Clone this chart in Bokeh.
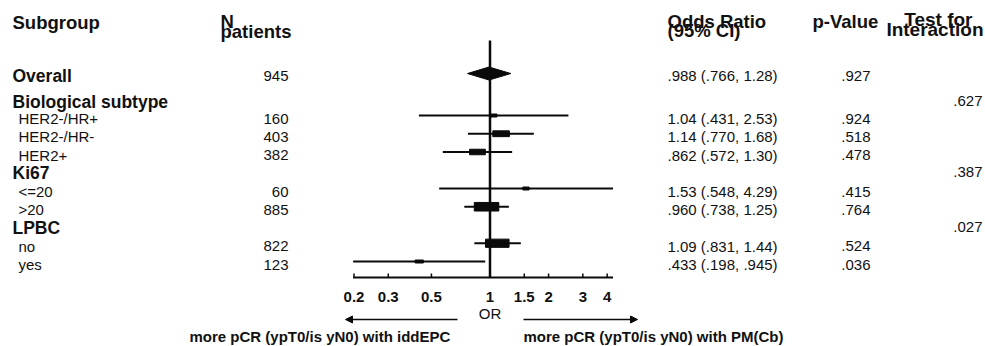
import math
from bokeh.plotting import figure
from bokeh.models import Range1d, LinearScale, Arrow, NormalHead
from bokeh.core.properties import value
from bokeh.embed import file_html
from bokeh.resources import INLINE

# ---------------- data ----------------
overall_label = "Overall"
overall_n = 945
overall_or = 0.988
overall_lcl = 0.766
overall_ucl = 1.28
overall_p = ".927"

group_headers = ["Biological subtype", "Ki67", "LPBC"]
interaction_p = [".627", ".387", ".027"]

sub_labels = ["HER2-/HR+", "HER2-/HR-", "HER2+", "<=20", ">20", "no", "yes"]
sub_n = [160, 403, 382, 60, 885, 822, 123]
sub_or = [1.04, 1.14, 0.862, 1.53, 0.960, 1.09, 0.433]
sub_lcl = [0.431, 0.770, 0.572, 0.548, 0.738, 0.831, 0.198]
sub_ucl = [2.53, 1.68, 1.30, 4.29, 1.25, 1.44, 0.945]
sub_p = [".924", ".518", ".478", ".415", ".764", ".524", ".036"]

tick_values = [0.2, 0.3, 0.5, 1, 1.5, 2, 3, 4]
tick_labels = ["0.2", "0.3", "0.5", "1", "1.5", "2", "3", "4"]
axis_label = "OR"
left_caption = "more pCR (ypT0/is yN0) with iddEPC"
right_caption = "more pCR (ypT0/is yN0) with PM(Cb)"

# ---------------- layout ----------------
W, H = 985, 346
PX0, PY0 = 0, 0                      # page offset of the figure (observed)
ONE_X, PX_PER_LN = 489.5, 84.5       # page x of OR=1, pixels per ln unit
ROW0_Y, ROW_H = 60.25, 18.25         # page y of row 0, row height

overall_row = 0.7
header_rows = [2.1, 6, 9]
sub_rows = [3, 4, 5, 7, 8, 10, 11]

FONT = value("Liberation Sans")

x_start = math.exp((PX0 - ONE_X) / PX_PER_LN)
x_end = math.exp((PX0 + W - ONE_X) / PX_PER_LN)
r_top = (PY0 - ROW0_Y) / ROW_H
r_bot = (PY0 + H - ROW0_Y) / ROW_H

p = figure(width=W, height=H, x_axis_type="log", x_axis_location=None, y_axis_location=None,
           x_range=Range1d(x_start, x_end), y_range=Range1d(r_bot, r_top),
           output_backend="svg", toolbar_location=None, min_border=0)
p.extra_x_ranges = {"px": Range1d(PX0, PX0 + W)}
p.extra_x_scales = {"px": LinearScale()}
p.extra_y_ranges = {"py": Range1d(PY0 + H, PY0)}
p.extra_y_scales = {"py": LinearScale()}
p.grid.visible = False
p.outline_line_color = None
p.background_fill_color = "white"
p.border_fill_color = "white"


def fmt(v):
    s = f"{v:#.3g}"
    return s[1:] if s.startswith("0.") else s


def txt(x, y, t, size, bold=False, align="left", yname="py", yoff=0, xname="px"):
    kw = dict(x=x, y=y, text=t, text_font=FONT, text_font_size=size,
              text_font_style="bold" if bold else "normal", text_align=align,
              text_baseline="middle", text_color="#111111", y_offset=yoff)
    if xname:
        kw["x_range_name"] = xname
    if yname:
        kw["y_range_name"] = yname
    p.text(**kw)


# ---------------- column headers ----------------
txt([12], [22], ["Subgroup"], "18.5px", bold=True)
txt([220], [21], ["N"], "18.5px", bold=True)
txt([220], [30.5], ["patients"], "18.5px", bold=True)
txt([667], [21], ["Odds Ratio"], "18.5px", bold=True)
txt([667], [30], ["(95% CI)"], "18.5px", bold=True)
txt([812], [21], ["p-Value"], "18.5px", bold=True)
txt([972], [19], ["Test for"], "19px", bold=True, align="right")
txt([983], [28.5], ["Interaction"], "19px", bold=True, align="right")

# ---------------- row texts ----------------
txt([12], [overall_row], [overall_label], "17.5px", bold=True, yname=None, yoff=2)
txt([288], [overall_row], [str(overall_n)], "15px", align="right", yname=None, yoff=2)
txt([667], [overall_row], [f"{fmt(overall_or)} ({fmt(overall_lcl)}, {fmt(overall_ucl)})"], "15px",
    yname=None, yoff=2)
txt([870], [overall_row], [overall_p], "15px", align="right", yname=None, yoff=2)

txt([12] * 3, header_rows, group_headers, "17.5px", bold=True, yname=None, yoff=3)
txt([982] * 3, header_rows, interaction_p, "15px", align="right", yname=None, yoff=2)

ns = len(sub_labels)
txt([18] * ns, sub_rows, sub_labels, "15px", yname=None, yoff=3)
txt([288] * ns, sub_rows, [str(n) for n in sub_n], "15px", align="right", yname=None, yoff=3)
txt([667] * ns, sub_rows, [f"{fmt(o)} ({fmt(l)}, {fmt(u)})" for o, l, u in zip(sub_or, sub_lcl, sub_ucl)],
    "15px", yname=None, yoff=3)
txt([870] * ns, sub_rows, sub_p, "15px", align="right", yname=None, yoff=3)

# ---------------- forest marks ----------------
INK = "#0a0a0a"
AXIS_Y = 277
p.segment(x0=[1], x1=[1], y0=[40], y1=[AXIS_Y], y_range_name="py", line_color=INK, line_width=2.5)

p.segment(x0=sub_lcl, x1=sub_ucl, y0=sub_rows, y1=sub_rows, line_color=INK, line_width=2.2)

se = [(math.log(u) - math.log(l)) / 3.92 for l, u in zip(sub_lcl, sub_ucl)]
box_w = [3.3 / s for s in se]
box_h = [max(3.0, 0.35 * w) for w in box_w]
p.rect(x=sub_or, y=sub_rows, width=box_w, height=box_h, width_units="screen", height_units="screen",
       fill_color=INK, line_color=INK)

dh = 6.5 / ROW_H
p.patch(x=[overall_lcl, overall_or, overall_ucl, overall_or],
        y=[overall_row, overall_row - dh, overall_row, overall_row + dh],
        fill_color=INK, line_color=INK)

# ---------------- axis ----------------
all_l = sub_lcl + [overall_lcl]
all_u = sub_ucl + [overall_ucl]
p.segment(x0=[min(all_l)], x1=[max(all_u)], y0=[AXIS_Y], y1=[AXIS_Y], y_range_name="py",
          line_color=INK, line_width=2)
p.segment(x0=tick_values, x1=tick_values, y0=[AXIS_Y - 4] * len(tick_values), y1=[AXIS_Y] * len(tick_values),
          y_range_name="py", line_color=INK, line_width=1.5)
p.text(x=tick_values, y=[296] * len(tick_values), text=tick_labels, y_range_name="py",
       text_font=FONT, text_font_size="15px", text_font_style="bold", text_align="center",
       text_baseline="middle", text_color="#111111")
p.text(x=[1], y=[312.5], text=[axis_label], y_range_name="py",
       text_font=FONT, text_font_size="15px", text_align="center",
       text_baseline="middle", text_color="#111111")

p.add_layout(Arrow(x_start=457, y_start=319, x_end=345, y_end=319, x_range_name="px", y_range_name="py",
                   line_color=INK, line_width=1.5,
                   end=NormalHead(size=7, fill_color=INK, line_color=INK)))
p.add_layout(Arrow(x_start=523, y_start=319, x_end=637, y_end=319, x_range_name="px", y_range_name="py",
                   line_color=INK, line_width=1.5,
                   end=NormalHead(size=7, fill_color=INK, line_color=INK)))

txt([189], [336], [left_caption], "15px", bold=True)
txt([523], [336], [right_caption], "15px", bold=True)

open("out.html", "w").write(file_html(p, INLINE))
